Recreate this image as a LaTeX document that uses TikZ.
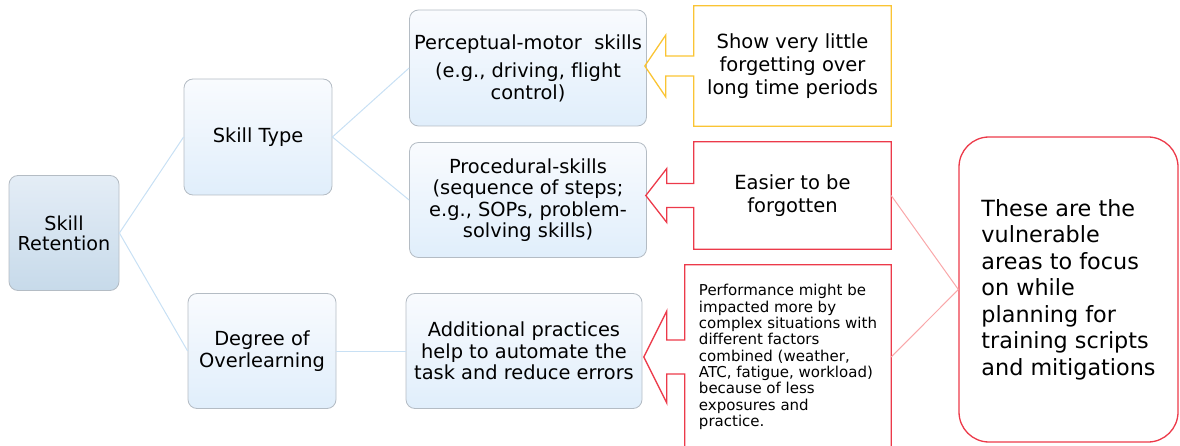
\documentclass[tikz,border=0pt]{standalone}
\usepackage{fontspec}
\setmainfont{DejaVu Sans}[Ligatures=NoCommon]
\usetikzlibrary{calc}

\definecolor{nodeline}{RGB}{180,188,196}
\definecolor{skilltop}{RGB}{249,251,254}
\definecolor{skillbot}{RGB}{224,238,251}
\definecolor{roottop}{RGB}{228,237,246}
\definecolor{rootbot}{RGB}{199,218,234}
\definecolor{branchline}{RGB}{200,224,244}
\definecolor{calloutred}{RGB}{236,58,74}
\definecolor{calloutyellow}{RGB}{250,196,52}
\definecolor{hintline}{RGB}{249,168,170}

\tikzset{
  skill/.style={draw=nodeline, line width=0.8pt, rounded corners=9pt,
    top color=skilltop, bottom color=skillbot, align=center, inner sep=0pt,
    font=\fontsize{19.4}{21.5}\selectfont},
  root/.style={skill, top color=roottop, bottom color=rootbot,
    font=\fontsize{19.2}{20}\selectfont},
  branch/.style={draw=branchline, line width=1pt},
  hint/.style={draw=hintline, line width=1pt},
  note/.style={inner sep=0pt, align=center, font=\fontsize{19.5}{23}\selectfont},
}

% box with a left pointing arrow: node, colour, shaft length, head length, head half, shaft half
\newcommand{\arrowcallout}[6]{%
  \draw[#2, line width=1.3pt] ($(#1.west)+(0,#6)$) |- (#1.north east) |- (#1.south west)
    -- ($(#1.west)+(0,-#6)$) -- ++(-#3,0) -- ++(0,{-(#5-#6)}) -- ++(-#4,#5)
    -- ++(#4,#5) -- ++(0,{-(#5-#6)}) -- cycle;
}

\begin{document}
\begin{tikzpicture}[x=1pt,y=1pt]
    \clip (0,0) rectangle (1180,-446);

    % mind map
    \node[root, minimum width=110pt, minimum height=115pt] (ret) at (64,-233) {Skill\\Retention};
    \node[skill, minimum width=148pt, minimum height=116pt] (type) at (258,-137) {Skill Type};
    \node[skill, minimum width=148pt, minimum height=115pt] (over) at (262,-351) {Degree of\\Overlearning};
    \node[skill, minimum width=237pt, minimum height=116pt] (perc) at (528,-68)
        {Perceptual-motor\ \ skills\\[7pt](e.g., driving, flight\\control)};
    \node[skill, minimum width=237pt, minimum height=115pt] (proc) at (528,-200)
        {Procedural-skills\\(sequence of steps;\\e.g., SOPs, problem-\\solving skills)};
    \node[skill, minimum width=236pt, minimum height=115pt] (add) at (524,-351)
        {Additional practices\\help to automate the\\task and reduce errors};

    \draw[branch] (ret.east) -- (type.west);
    \draw[branch] (ret.east) -- (over.west);
    \draw[branch] (type.east) -- (perc.west);
    \draw[branch] (type.east) -- (proc.west);
    \draw[branch] (over.east) -- (add.west);

    % callouts
    \node[note, minimum width=197pt, minimum height=120pt] (show) at (792.5,-66)
        {Show very little\\forgetting over\\long time periods};
    \arrowcallout{show}{calloutyellow}{28}{21}{31}{10}

    \node[note, minimum width=197pt, minimum height=107pt] (easy) at (792.5,-195.5)
        {Easier to be\\forgotten};
    \arrowcallout{easy}{calloutred}{27}{21}{27}{12}

    \node[note, minimum width=206pt, minimum height=184pt, align=left,
        font=\fontsize{15}{16.3}\selectfont] (perf) at (788,-357)
        {Performance might be\\impacted more by\\complex situations with\\different factors\\combined (weather,\\ATC, fatigue, workload)\\because of less\\exposures and\\practice.};
    \arrowcallout{perf}{calloutred}{18}{23}{46}{17}

    % summary
    \node[note, draw=calloutred, line width=1.3pt, rounded corners=30pt, align=left,
        minimum width=219pt, minimum height=305pt,
        font=\fontsize{22.3}{26.5}\selectfont] (vuln) at (1068.5,-289.5)
        {These are the\\vulnerable\\areas to focus\\on while\\planning for\\training scripts\\and mitigations};

    \draw[hint] (easy.east) -- (vuln.west);
    \draw[hint] (perf.east) -- (vuln.west);
\end{tikzpicture}
\end{document}
